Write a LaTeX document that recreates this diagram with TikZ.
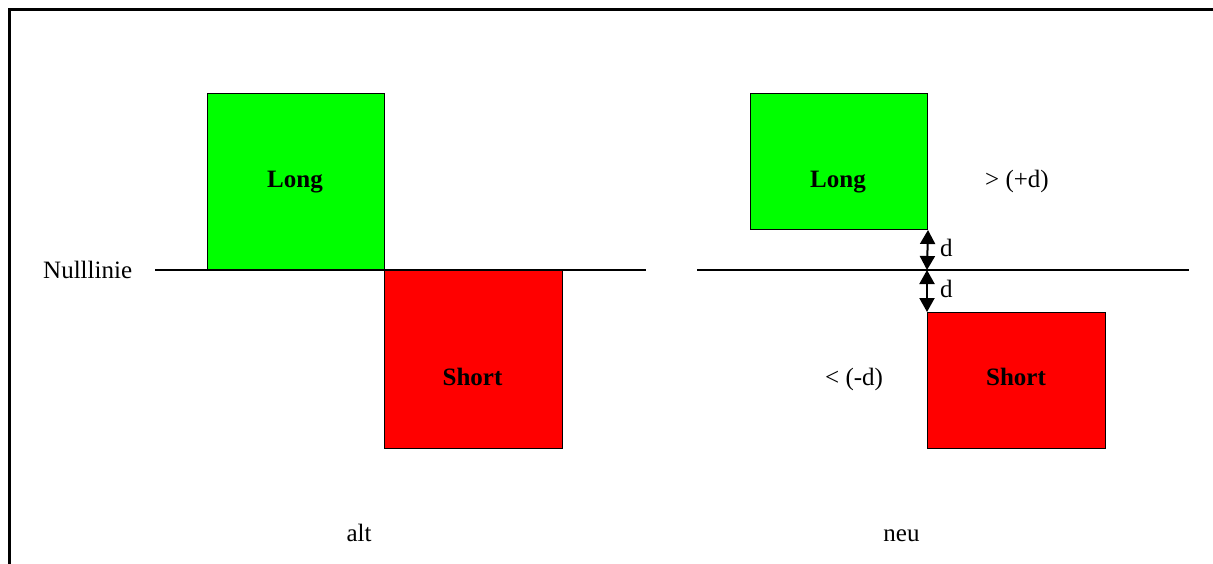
\documentclass[tikz,border=0pt]{standalone}
\usepackage{fontspec}
\setmainfont{Liberation Serif}
\usetikzlibrary{arrows.meta}
\tikzset{
  bar/.style={draw=black, line width=1pt, inner sep=0pt, anchor=north west},
  longbar/.style={bar, fill={rgb,255:red,0;green,255;blue,0}},
  shortbar/.style={bar, fill={rgb,255:red,255;green,0;blue,0}},
  barlabel/.style={font=\fontsize{25}{30}\selectfont\bfseries, anchor=base, inner sep=0pt},
  txt/.style={font=\fontsize{25}{30}\selectfont, inner sep=0pt},
  zeroline/.style={line width=1.5pt},
  gap/.style={line width=2pt, {Triangle[width=15pt,length=14pt]}-{Triangle[width=15pt,length=14pt]}}
}
\begin{document}
\begin{tikzpicture}[x=1pt,y=-1pt]
\useasboundingbox (0,0) rectangle (1213,564);
% open frame: left and top edges only
\coordinate (fb) at (9,564);
\coordinate (fc) at (9,9.5);
\coordinate (fr) at (1213,9.5);
\draw[line width=3pt] (fb) -- (fc) -- (fr);

% ---- old scheme ----
\coordinate (z1a) at (155,270);
\coordinate (z1b) at (646,270);
\node[longbar, minimum width=177pt, minimum height=177pt] (L1) at (207,93) {};
\node[shortbar, minimum width=178pt, minimum height=178pt] (S1) at (384,270) {};
\draw[zeroline] (z1a) -- (z1b);
\node[barlabel] (tl1) at (295,188) {Long};
\node[barlabel] (ts1) at (472.5,385) {Short};
\node[txt, anchor=base west] (null) at (43,278) {Nulllinie};
\node[txt, anchor=base] (alt) at (359,541) {alt};

% ---- new scheme ----
\coordinate (z2a) at (697,270);
\coordinate (z2b) at (1189,270);
\coordinate (z2) at (927,270);
\node[longbar, minimum width=177pt, minimum height=136pt] (L2) at (750,93) {};
\node[shortbar, minimum width=178pt, minimum height=136pt] (S2) at (927,312) {};
\draw[zeroline] (z2a) -- (z2b);
\draw[gap] (L2.south east) -- (z2);
\draw[gap] (z2) -- (S2.north west);
\node[barlabel] (tl2) at (838,188) {Long};
\node[barlabel] (ts2) at (1016,385) {Short};
\node[txt, anchor=base west] (d1) at (940,256) {d};
\node[txt, anchor=base west] (d2) at (940,297) {d};
\node[txt, anchor=base west] (up) at (985,188) {> (+d)};
\node[txt, anchor=base west] (dn) at (825,385) {< (-d)};
\node[txt, anchor=base] (neu) at (901.5,541) {neu};
\end{tikzpicture}
\end{document}
